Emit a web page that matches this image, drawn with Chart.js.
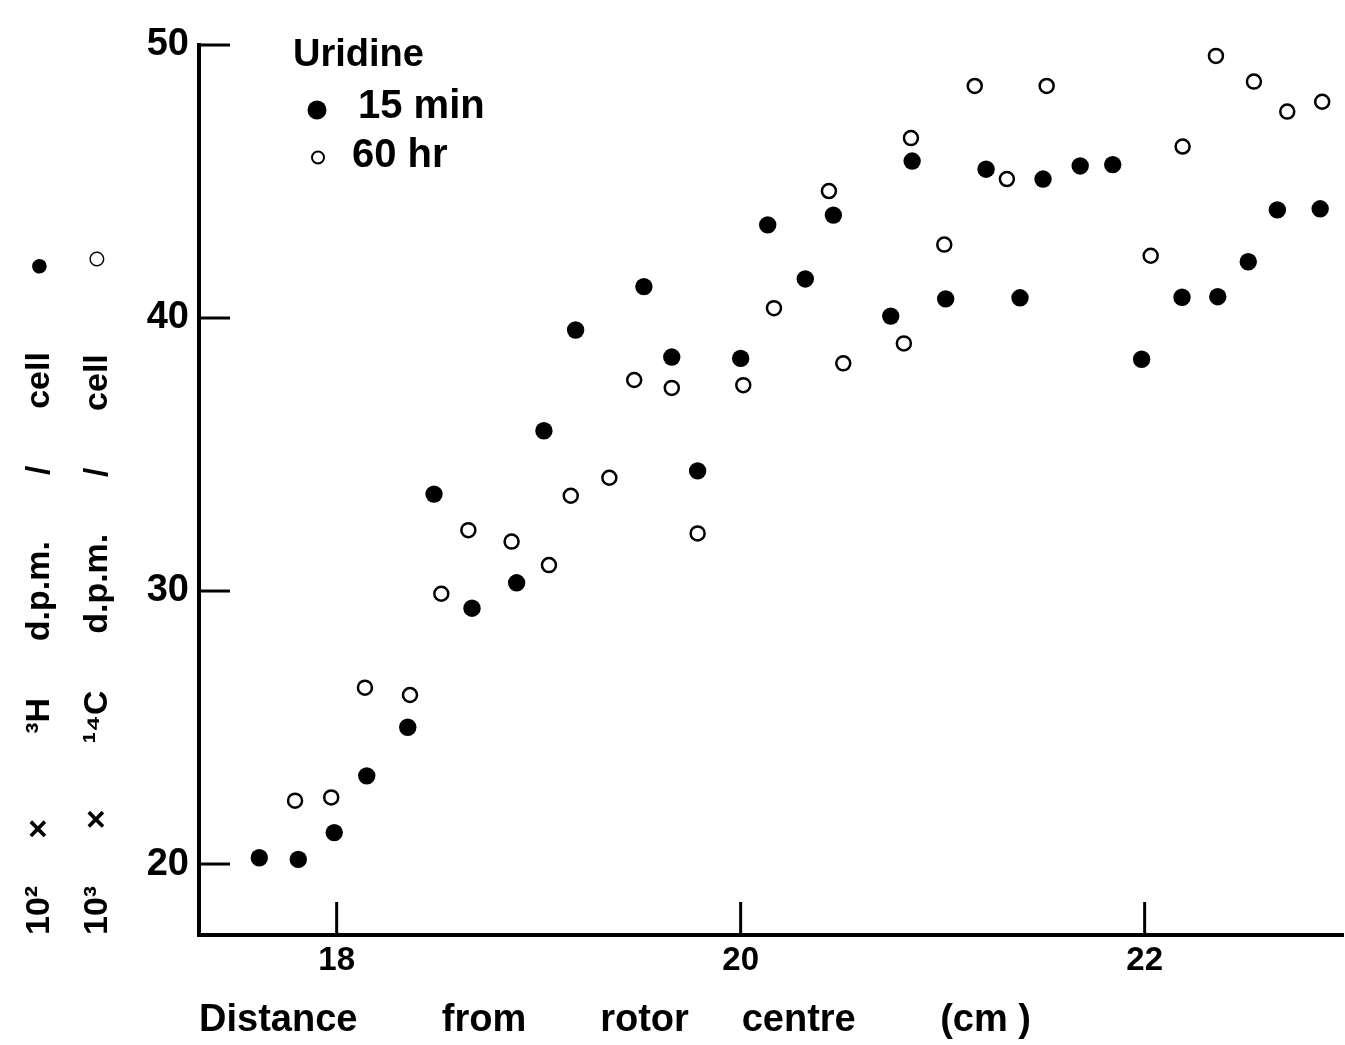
<!DOCTYPE html>
<html><head><meta charset="utf-8">
<script src="https://cdn.jsdelivr.net/npm/chart.js@4.4.0/dist/chart.umd.min.js"></script>
<style>html,body{margin:0;padding:0;background:#fff;}canvas{display:block;}</style>
</head><body>
<canvas id="c" width="1345" height="1045"></canvas>
<script>
// ---- data ----
const distance15 = [17.617, 17.810, 17.988, 18.149, 18.352, 18.482, 18.670, 18.891, 19.026, 19.183,
  19.521, 19.659, 19.787, 20.000, 20.134, 20.320, 20.459, 20.743, 20.849, 21.015,
  21.215, 21.383, 21.497, 21.681, 21.842, 21.985, 22.185, 22.362, 22.513, 22.657, 22.869];
const dpm15 = [20.23, 20.17, 21.15, 23.23, 25.01, 33.55, 29.37, 30.30, 35.87, 39.56,
  41.15, 38.57, 34.40, 38.52, 43.41, 41.43, 43.77, 40.07, 45.75, 40.70,
  45.45, 40.74, 45.09, 45.57, 45.62, 38.49, 40.76, 40.78, 42.06, 43.96, 44.00];
const distance60 = [17.794, 17.973, 18.140, 18.363, 18.518, 18.652, 18.866, 19.051, 19.159, 19.350,
  19.473, 19.659, 19.787, 20.013, 20.165, 20.437, 20.508, 20.808, 20.843, 21.008,
  21.159, 21.318, 21.515, 21.700, 21.878, 22.030, 22.188, 22.353, 22.541, 22.706, 22.879];
const dpm60 = [22.32, 22.44, 26.46, 26.19, 29.90, 32.23, 31.81, 30.95, 33.49, 34.15,
  37.73, 37.44, 32.11, 37.54, 40.36, 44.65, 38.34, 39.07, 46.59, 42.69,
  48.50, 45.09, 48.50, 50.77, 51.04, 42.28, 46.28, 49.60, 48.66, 47.56, 47.92];
const xTicks = [18, 20, 22];
const yTicks = [20, 30, 40, 50];
const seriesLabels = ['15 min', '60 hr'];
const legendTitle = 'Uridine';
const xTitle = 'Distance        from       rotor     centre        (cm )';
const yTitleLines = [
  '10\u00B2     \u00D7         \u00B3H      d.p.m.       /      cell        \u25CF',
  '10\u00B3      \u00D7       \u00B9\u2074C      d.p.m.      /      cell         \u25CB'
];

const FAMILY = '"Liberation Sans", Arial, Helvetica, sans-serif';
Chart.defaults.font.family = FAMILY;
Chart.defaults.color = '#000';

const toPts = (xs, ys) => xs.map((x, i) => ({x: x, y: ys[i]}));

const innerTicks = {
  id: 'innerTicks',
  afterDatasetsDraw(chart) {
    const {ctx, chartArea: a} = chart;
    const xs = chart.scales.x, ys = chart.scales.y;
    ctx.save();
    ctx.strokeStyle = '#000';
    ctx.lineWidth = 3;
    xs.ticks.forEach(t => {
      const px = xs.getPixelForValue(t.value);
      ctx.beginPath(); ctx.moveTo(px, a.bottom); ctx.lineTo(px, a.bottom - 33); ctx.stroke();
    });
    ys.ticks.forEach(t => {
      const py = ys.getPixelForValue(t.value);
      ctx.beginPath(); ctx.moveTo(a.left, py); ctx.lineTo(a.left + 31, py); ctx.stroke();
    });
    ctx.restore();
  }
};

const legendBox = {
  id: 'legendBox',
  afterDraw(chart) {
    const {ctx, chartArea: a} = chart;
    const x0 = a.left;
    ctx.save();
    ctx.fillStyle = '#000';
    ctx.strokeStyle = '#000';
    ctx.textAlign = 'left';
    ctx.textBaseline = 'alphabetic';
    ctx.font = 'bold 38px ' + FAMILY;
    ctx.fillText(legendTitle, x0 + 94, 66);
    ctx.font = 'bold 40px ' + FAMILY;
    ctx.beginPath(); ctx.arc(x0 + 118, 110, 9.5, 0, Math.PI * 2); ctx.fill();
    ctx.fillText(seriesLabels[0], x0 + 159, 118);
    ctx.lineWidth = 2;
    ctx.beginPath(); ctx.arc(x0 + 119, 157.5, 6, 0, Math.PI * 2); ctx.stroke();
    ctx.fillText(seriesLabels[1], x0 + 153, 167);
    ctx.restore();
  }
};

new Chart(document.getElementById('c'), {
  type: 'scatter',
  data: {
    datasets: [
      {
        label: seriesLabels[0],
        data: toPts(distance15, dpm15),
        pointRadius: 8.7,
        pointHoverRadius: 8.7,
        pointBackgroundColor: '#000',
        pointBorderColor: '#000',
        pointBorderWidth: 0,
        clip: false
      },
      {
        label: seriesLabels[1],
        data: toPts(distance60, dpm60),
        pointRadius: 7,
        pointHoverRadius: 7,
        pointBackgroundColor: 'rgba(0,0,0,0)',
        pointBorderColor: '#000',
        pointBorderWidth: 2.5,
        clip: false
      }
    ]
  },
  options: {
    responsive: false,
    animation: false,
    devicePixelRatio: 1,
    layout: {autoPadding: false, padding: {top: 45, right: 2, bottom: 0, left: 0}},
    plugins: {legend: {display: false}, tooltip: {enabled: false}},
    scales: {
      x: {
        type: 'linear',
        min: 17.3185,
        max: 22.982,
        afterBuildTicks(s) { s.ticks = xTicks.map(v => ({value: v})); },
        afterFit(s) { s.height = 110; s.paddingLeft = 0; s.paddingRight = 0; },
        grid: {display: false, drawTicks: false},
        border: {display: true, color: '#000', width: 4},
        ticks: {color: '#000', font: {size: 33, weight: 'bold'}, padding: 6, maxRotation: 0, autoSkip: false},
        title: {display: true, text: xTitle, align: 'start', color: '#000',
                font: {size: 38, weight: 'bold', lineHeight: 1.2}, padding: {top: 0, bottom: 2}}
      },
      y: {
        type: 'linear',
        min: 17.4,
        max: 50,
        afterBuildTicks(s) { s.ticks = yTicks.map(v => ({value: v})); },
        afterFit(s) { s.width = 199; s.paddingTop = 0; s.paddingBottom = 0; },
        grid: {display: false, drawTicks: false},
        border: {display: true, color: '#000', width: 4},
        ticks: {color: '#000', font: {size: 38, weight: 'bold'}, padding: 10, autoSkip: false},
        title: {display: true, text: yTitleLines, align: 'start', color: '#000',
                font: {size: 34, weight: 'bold', lineHeight: 1.706}, padding: {top: 11, bottom: 0}}
      }
    }
  },
  plugins: [innerTicks, legendBox]
});
</script>
</body></html>
